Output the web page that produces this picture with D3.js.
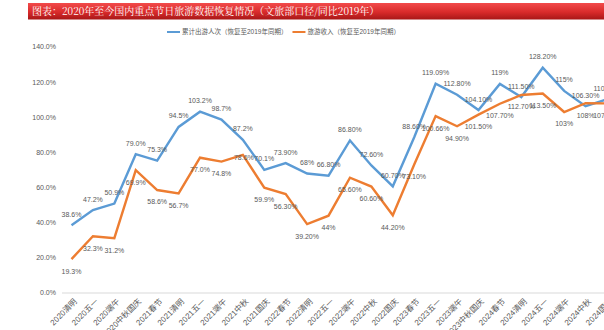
<!DOCTYPE html>
<html><head><meta charset="utf-8">
<script src="https://cdn.jsdelivr.net/npm/d3@7/dist/d3.min.js"></script>
<style>
html,body{margin:0;padding:0;background:#fff;overflow:hidden;}
text{font-family:"Liberation Sans","Noto Sans CJK SC",sans-serif;}
</style></head>
<body>
<svg id="c" width="604" height="330"></svg>
<script>
const titleText = "图表：2020年至今国内重点节日旅游数据恢复情况（文旅部口径/同比2019年）";
const categories = ["2020清明","2020五一","2020端午","2020中秋国庆","2021春节","2021清明","2021五一","2021端午","2021中秋","2021国庆","2022春节","2022清明","2022五一","2022端午","2022中秋","2022国庆","2023春节","2023五一","2023端午","2023中秋国庆","2024春节","2024清明","2024五一","2024端午","2024中秋","2024国庆"];
const seriesNames = ["累计出游人次（恢复至2019年同期）","旅游收入（恢复至2019年同期）"];
const tripValues = [38.6,47.2,50.9,79.0,75.3,94.5,103.2,98.7,87.2,70.1,73.9,68,66.8,86.8,72.6,60.7,88.6,119.09,112.8,104.1,119,111.5,128.2,115,106.3,110.2];
const tripLabels = ["38.6%","47.2%","50.9%","79.0%","75.3%","94.5%","103.2%","98.7%","87.2%","70.1%","73.90%","68%","66.80%","86.80%","72.60%","60.70%","88.60%","119.09%","112.80%","104.10%","119%","111.50%","128.20%","115%","106.30%","110.20%"];
const revenueValues = [19.3,32.3,31.2,69.9,58.6,56.7,77.0,74.8,78.6,59.9,56.3,39.2,44,65.6,60.6,44.2,73.1,100.66,94.9,101.5,107.7,112.7,113.5,103,108,107.9];
const revenueLabels = ["19.3%","32.3%","31.2%","69.9%","58.6%","56.7%","77.0%","74.8%","78.6%","59.9%","56.30%","39.20%","44%","65.60%","60.60%","44.20%","73.10%","100.66%","94.90%","101.50%","107.70%","112.70%","113.50%","103%","108%","107.90%"];
const yTicks = [0,20,40,60,80,100,120,140];

const colors = ["#5b9bd5","#ed7d31"];
const svg = d3.select("#c");

// title bar
const defs = svg.append("defs");
const g1 = defs.append("linearGradient").attr("id","tb").attr("x1",0).attr("x2",0).attr("y1",0).attr("y2",1);
g1.append("stop").attr("offset","0%").attr("stop-color","#f24b4b");
g1.append("stop").attr("offset","55%").attr("stop-color","#d92b2b");
g1.append("stop").attr("offset","100%").attr("stop-color","#a81717");
svg.append("rect").attr("x",28).attr("y",3).attr("width",576).attr("height",16.5).attr("fill","url(#tb)");
svg.append("text").attr("x",32).attr("y",11.5).attr("dy","0.36em")
  .attr("fill","#fff").style("font-family","'Noto Serif CJK SC','Noto Sans CJK SC',serif")
  .style("font-size","10px").text(titleText);

const x = d3.scalePoint().domain(categories).range([71.5, 607]);
const y = d3.scaleLinear().domain([0,140]).range([293,47]);

// y axis labels
svg.append("g").selectAll("text").data(yTicks).join("text")
  .attr("x",56).attr("y",d=>y(d)).attr("dy","0.35em").attr("text-anchor","end")
  .attr("fill","#595959").style("font-size","7px").text(d=>d.toFixed(1)+"%");

// baseline
svg.append("line").attr("x1",62).attr("x2",604).attr("y1",y(0)).attr("y2",y(0))
  .attr("stroke","#d9d9d9").attr("stroke-width",1);

// x labels
svg.append("g").selectAll("text").data(categories).join("text")
  .attr("transform",d=>`translate(${x(d)+4},${300}) rotate(-45)`)
  .attr("text-anchor","end").attr("dy","0.35em")
  .attr("fill","#595959").style("font-size","8px").text(d=>d);

// legend
const leg = svg.append("g");
let lx = 167;
seriesNames.forEach((n,i)=>{
  leg.append("line").attr("x1",lx).attr("x2",lx+13).attr("y1",32).attr("y2",32)
    .attr("stroke",colors[i]).attr("stroke-width",2);
  const t = leg.append("text").attr("x",lx+15).attr("y",32).attr("dy","0.35em")
    .attr("fill","#595959").style("font-size","6.5px").text(n);
  lx = lx + 15 + t.node().getComputedTextLength() + 5;
});

const line = d3.line().x((d,i)=>x(categories[i])).y(d=>y(d));
[tripValues, revenueValues].forEach((vals,i)=>{
  svg.append("path").attr("d",line(vals)).attr("fill","none")
    .attr("stroke",colors[i]).attr("stroke-width",2.4).attr("stroke-linejoin","miter");
});

// data labels
const lbl = svg.append("g").style("font-size","7px").attr("fill","#595959");
tripValues.forEach((v,i)=>{
  lbl.append("text").attr("x",x(categories[i])).attr("y",y(v)-11).attr("dy","0.35em")
    .attr("text-anchor","middle").text(tripLabels[i]);
});
revenueValues.forEach((v,i)=>{
  const special = revenueLabels[i]==="78.6%";
  lbl.append("text").attr("x",x(categories[i])+(special?1:0)).attr("y",y(v)+(special?2.5:12)).attr("dy","0.35em")
    .attr("text-anchor","middle").text(revenueLabels[i]);
});
</script>
</body></html>
